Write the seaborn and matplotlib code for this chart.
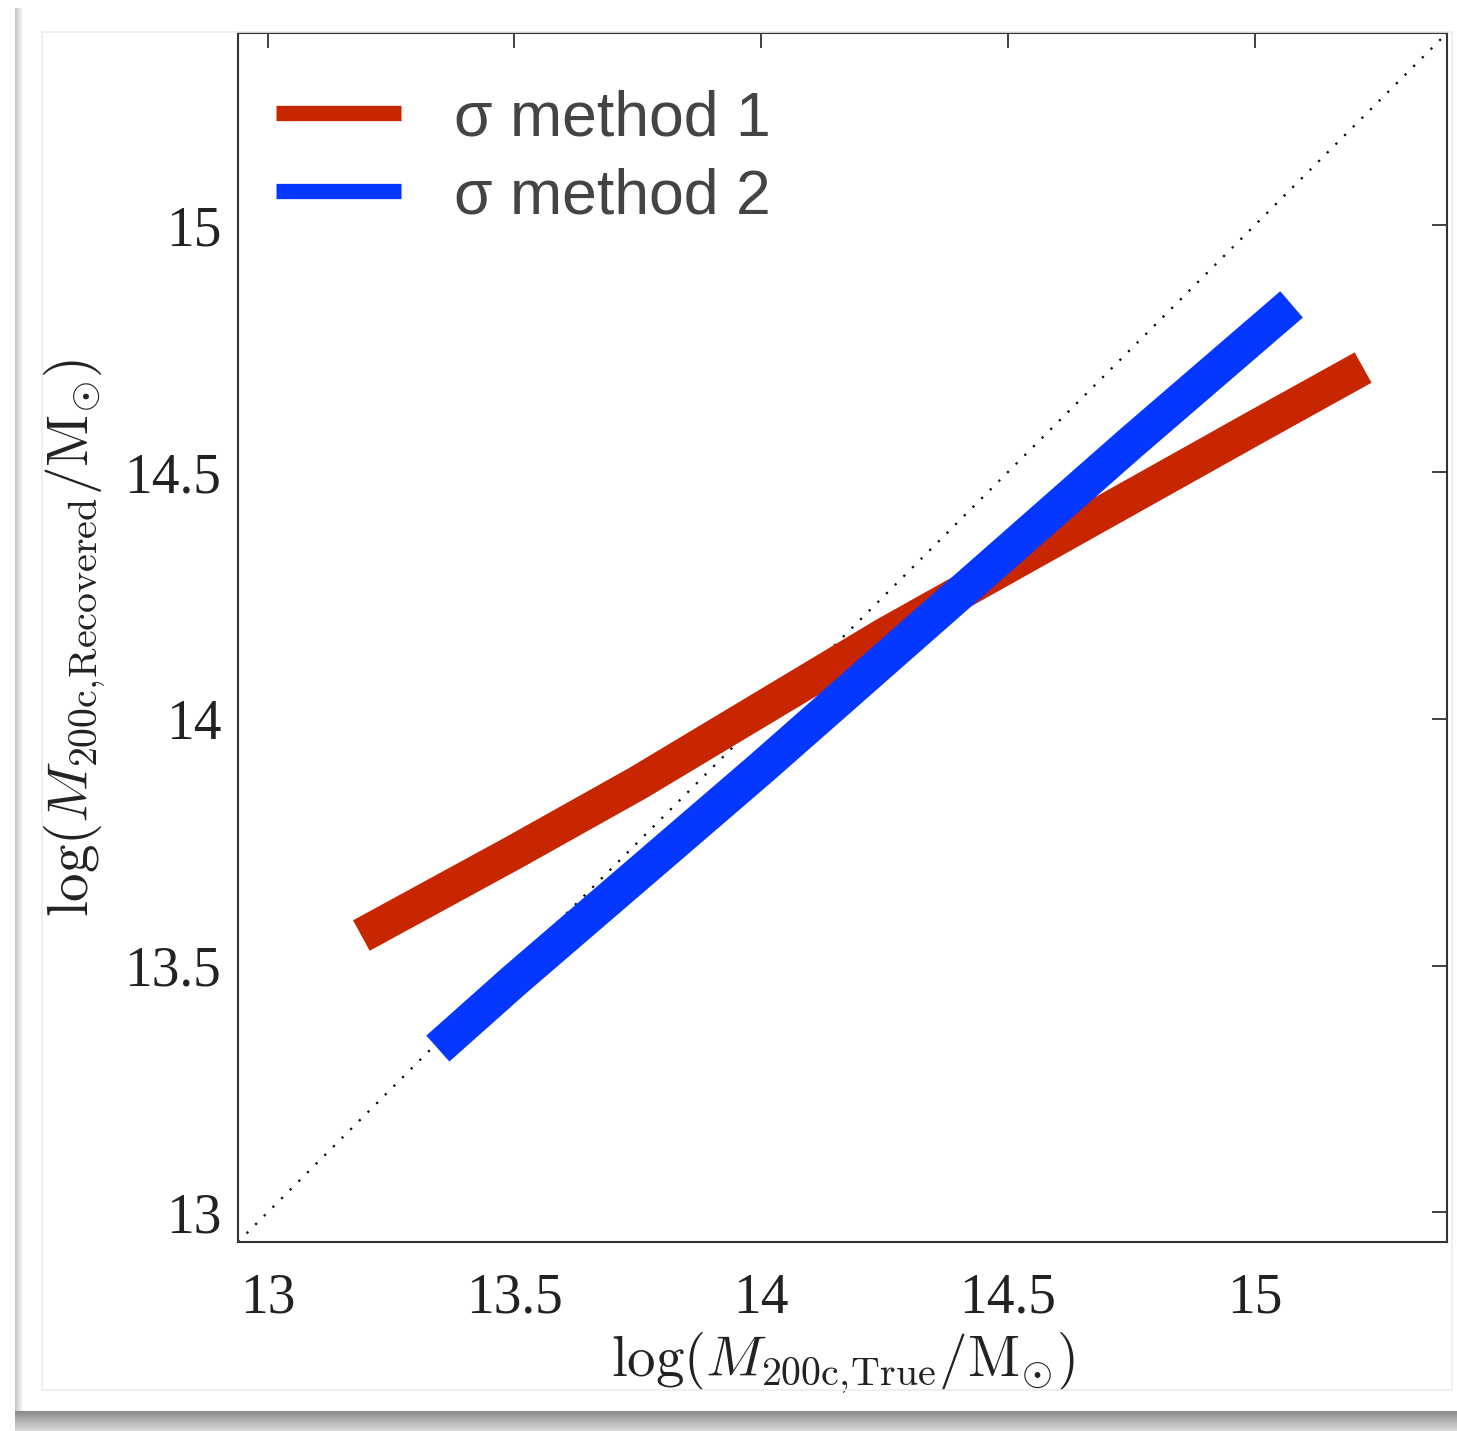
import seaborn as sns
import pandas as pd
import numpy as np
import matplotlib.pyplot as plt
from matplotlib.patches import Rectangle

# values
m1_true = [13.19, 13.5, 13.75, 14.0, 14.25, 14.5, 14.75, 15.0, 15.22]
m1_rec = [13.561, 13.73, 13.87, 14.02, 14.17, 14.31, 14.45, 14.59, 14.712]
m2_true = [13.345, 13.5, 13.75, 14.0, 14.25, 14.5, 14.75, 15.075]
m2_rec = [13.332, 13.47, 13.685, 13.90, 14.12, 14.34, 14.56, 14.84]
labels = ['σ method 1', 'σ method 2']
colors = ['#c72600', '#0437ff']
ticks = [13, 13.5, 14, 14.5, 15]
lims = [12.94, 15.39]

df = pd.concat([
    pd.DataFrame({'true': m1_true, 'rec': m1_rec, 'method': labels[0]}),
    pd.DataFrame({'true': m2_true, 'rec': m2_rec, 'method': labels[1]}),
])

sns.set_style('white')
plt.rcParams['mathtext.fontset'] = 'cm'

W, H = 1457, 1431
fig = plt.figure(figsize=(W / 100, H / 100), dpi=100)

# screenshot frame / shadow
sh = fig.add_axes([15 / W, 0, 1 - 15 / W, 20 / H])
sh.imshow(np.linspace(0.55, 0.85, 20).reshape(-1, 1), cmap='gray', vmin=0, vmax=1,
          aspect='auto', extent=[0, 1, 0, 1])
sh.axis('off')
ls = fig.add_axes([15 / W, 20 / H, 8 / W, 1 - 28 / H])
ls.imshow(np.linspace(0.78, 0.97, 8).reshape(1, -1), cmap='gray', vmin=0, vmax=1,
          aspect='auto', extent=[0, 1, 0, 1])
ls.axis('off')
fig.patches.append(Rectangle((42 / W, 41 / H), (1452 - 42) / W, (1399 - 41) / H,
                             transform=fig.transFigure, fill=False, ec='#ececec', lw=1.2))

ax = fig.add_axes([238 / W, 1 - 1242 / H, (1447 - 238) / W, (1242 - 33) / H])
ax.plot(lims, lims, color='black', ls=(0, (1, 4.5)), lw=1.6, zorder=1)
sns.lineplot(data=df, x='true', y='rec', hue='method', palette=colors, linewidth=25,
             sort=False, estimator=None, ax=ax, zorder=2,
             solid_capstyle='butt', solid_joinstyle='round')

ax.set_xlim(lims)
ax.set_ylim(lims)
ax.set_xticks(ticks)
ax.set_yticks(ticks)
ax.set_xticklabels(['13', '13.5', '14', '14.5', '15'], family='Liberation Serif', fontsize=40)
ax.set_yticklabels(['13', '13.5', '14', '14.5', '15'], family='Liberation Serif', fontsize=40)
ax.tick_params(direction='in', length=11, width=1.3, color='#333333', top=True, right=True,
               labelcolor='#222222')
ax.tick_params(axis='x', pad=22)
ax.tick_params(axis='y', pad=12)
for s in ax.spines.values():
    s.set_color('#333333')
    s.set_linewidth(1.5)

ax.set_xlabel(r'$\log(M_{\rm 200c,\!True}/{\rm M}_{\odot})$', fontsize=41, labelpad=3, color='#222222')
ax.set_ylabel(r'$\log(M_{\rm 200c,\!Recovered}/{\rm M}_{\odot})$', fontsize=41, labelpad=12, color='#222222')

handles, labs = ax.get_legend_handles_labels()
leg = ax.legend(handles, labs, loc='upper left', bbox_to_anchor=(-0.015, 1.0), frameon=False,
                handlelength=2.0, handletextpad=0.85, labelspacing=0.3,
                borderaxespad=0.5, borderpad=0.4,
                prop={'family': 'Liberation Sans', 'size': 45})
for line in leg.get_lines():
    line.set_linewidth(11)
    line.set_solid_capstyle('butt')
for t in leg.get_texts():
    t.set_color('#444444')

fig.savefig('out.png', dpi=100)
